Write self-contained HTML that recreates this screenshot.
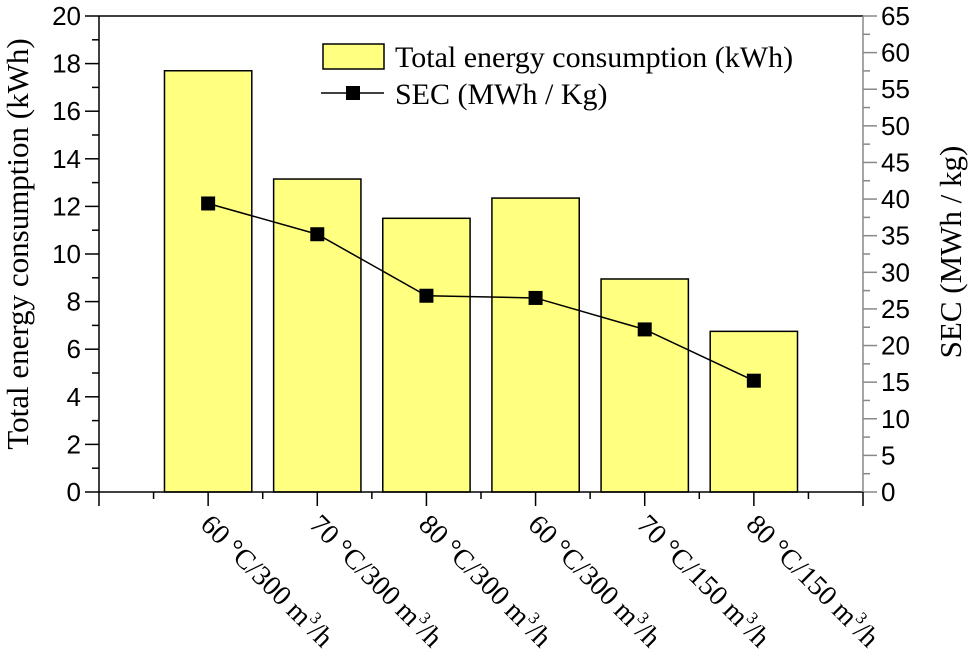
<!DOCTYPE html>
<html><head><meta charset="utf-8"><style>
body{margin:0;background:#fff}
svg{display:block}
.tl{font-family:"Liberation Sans",sans-serif;font-size:26px}
.sr{font-family:"Liberation Serif",serif}
</style></head><body>
<svg id="chart" width="969" height="666" viewBox="0 0 969 666" xmlns="http://www.w3.org/2000/svg">
<g id="bars"></g>
<g id="line"></g>
<g id="axes"></g>
<text class="sr" font-size="31" transform="translate(28,244) rotate(-90)" text-anchor="middle">Total energy consumption (kWh)</text>
<text class="sr" font-size="31" transform="translate(961,252) rotate(-90)" text-anchor="middle">SEC (MWh / kg)</text>
<g>
<rect x="323" y="44" width="61" height="25" fill="#ffff80" stroke="#000" stroke-width="1.5"/>
<text class="sr" font-size="30" x="395" y="67">Total energy consumption (kWh)</text>
<line x1="321" y1="93" x2="384" y2="93" stroke="#000" stroke-width="1.5"/>
<rect x="346" y="86" width="14" height="14" fill="#000"/>
<text class="sr" font-size="30" x="395" y="104">SEC (MWh / Kg)</text>
</g>
</svg>
<script>
const categories=["60 °C/300 m","70 °C/300 m","80 °C/300 m","60 °C/300 m","70 °C/150 m","80 °C/150 m"];
const energy=[17.7,13.15,11.5,12.35,8.95,6.75];
const sec=[39.4,35.2,26.8,26.5,22.2,15.2];
const leftTicks=[0,2,4,6,8,10,12,14,16,18,20];
const rightTicks=[0,5,10,15,20,25,30,35,40,45,50,55,60,65];
const NS="http://www.w3.org/2000/svg";
const L=99,R=863,T=16,B=492;
const xs=i=>L+(i+1)*(R-L)/7;
const yL=v=>B-v/20*(B-T);
const yR=v=>B-v/65*(B-T);
const bw=0.8*(R-L)/7;
function mk(tag,attrs,parent){const e=document.createElementNS(NS,tag);for(const k in attrs)e.setAttribute(k,attrs[k]);parent.appendChild(e);return e;}
const bars=document.getElementById('bars'),line=document.getElementById('line'),axes=document.getElementById('axes');
energy.forEach((v,i)=>{const r=mk('rect',{x:xs(i)-bw/2,y:yL(v),width:bw,height:B-yL(v),fill:'#ffff80',stroke:'#000','stroke-width':1.5},bars);

});
const pl=mk('polyline',{points:sec.map((v,i)=>xs(i)+','+yR(v)).join(' '),fill:'none',stroke:'#000','stroke-width':1.5},line);


sec.forEach((v,i)=>{const m=mk('rect',{x:xs(i)-7,y:yR(v)-7,width:14,height:14,fill:'#000'},line);

});
mk('line',{x1:L,y1:T,x2:R,y2:T,stroke:'#000','stroke-width':1.5},axes);
mk('line',{x1:L,y1:T,x2:L,y2:B,stroke:'#000','stroke-width':1.5},axes);
mk('line',{x1:L,y1:B,x2:R,y2:B,stroke:'#000','stroke-width':1.5},axes);
mk('line',{x1:R,y1:T,x2:R,y2:B,stroke:'#888','stroke-width':1.5},axes);
for(let v=0;v<=20;v++){const maj=v%2==0;mk('line',{x1:L-(maj?14:7),y1:yL(v),x2:L,y2:yL(v),stroke:'#000','stroke-width':1.5},axes);}
leftTicks.forEach(v=>{const t=mk('text',{x:L-18,y:yL(v)+9,'text-anchor':'end',class:'tl'},axes);t.textContent=v;

});
for(let v=0;v<=65;v+=2.5){const maj=v%5==0;mk('line',{x1:R,y1:yR(v),x2:R+(maj?14:7),y2:yR(v),stroke:'#888','stroke-width':1.5},axes);}
rightTicks.forEach(v=>{const t=mk('text',{x:R+18,y:yR(v)+9,'text-anchor':'start',class:'tl'},axes);t.textContent=v;

});
for(let k=0;k<=14;k++){const x=L+k*(R-L)/14;const maj=k%2==0;mk('line',{x1:x,y1:B,x2:x,y2:B+(maj?14:7),stroke:'#000','stroke-width':1.5},axes);}
categories.forEach((c,i)=>{const t=mk('text',{class:'sr','font-size':28,transform:'translate('+(xs(i)-9)+',526) rotate(45)'},axes);


t.appendChild(document.createTextNode(c));
const s=document.createElementNS(NS,'tspan');s.setAttribute('font-size','17');s.setAttribute('dy','-12');s.textContent='3';t.appendChild(s);
const h=document.createElementNS(NS,'tspan');h.setAttribute('dy','12');h.textContent='/h';t.appendChild(h);});
</script>
</body></html>
